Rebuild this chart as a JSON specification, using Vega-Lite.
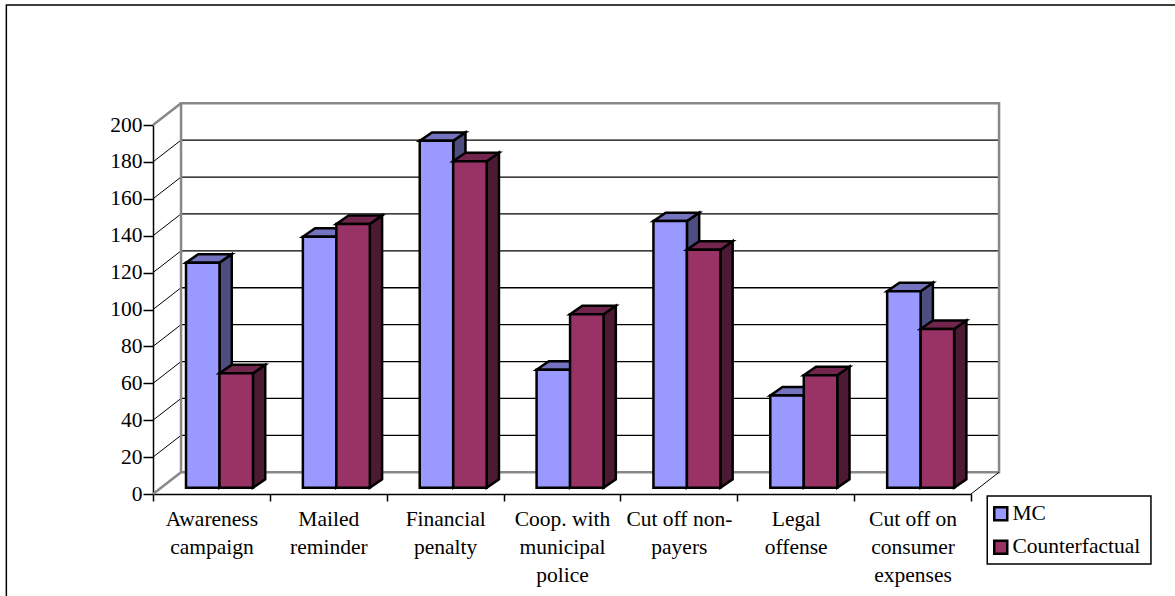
{
  "$schema": "https://vega.github.io/schema/vega-lite/v6.json",
  "autosize": {"type": "none"},
  "padding": {"left": 153, "top": 125, "right": 204, "bottom": 102},
  "width": 818,
  "height": 369,
  "background": "white",
  "config": {
    "view": {"stroke": null},
    "font": "Liberation Serif",
    "axis": {"labelFont": "Liberation Serif", "labelFontSize": 21.5, "labelColor": "black", "grid": false, "domainColor": "black", "tickColor": "black"},
    "axisY": {"tickCount": 10, "labelOverlap": false, "labelBound": false, "tickMinStep": 20, "tickSize": 10, "tickWidth": 1.5, "domainWidth": 1.5, "labelPadding": 1, "labelSeparation": 0}
  },
  "datasets": {
    "bars": [
      {"category": "Awareness\ncampaign", "series": "MC", "value": 122},
      {"category": "Mailed\nreminder", "series": "MC", "value": 136},
      {"category": "Financial\npenalty", "series": "MC", "value": 188},
      {"category": "Coop. with\nmunicipal\npolice", "series": "MC", "value": 64},
      {"category": "Cut off non-\npayers", "series": "MC", "value": 144.5},
      {"category": "Legal\noffense", "series": "MC", "value": 50},
      {"category": "Cut off on\nconsumer\nexpenses", "series": "MC", "value": 106.5},
      {"category": "Awareness\ncampaign", "series": "Counterfactual", "value": 62},
      {"category": "Mailed\nreminder", "series": "Counterfactual", "value": 143},
      {"category": "Financial\npenalty", "series": "Counterfactual", "value": 177},
      {"category": "Coop. with\nmunicipal\npolice", "series": "Counterfactual", "value": 94},
      {"category": "Cut off non-\npayers", "series": "Counterfactual", "value": 129},
      {"category": "Legal\noffense", "series": "Counterfactual", "value": 61},
      {"category": "Cut off on\nconsumer\nexpenses", "series": "Counterfactual", "value": 86}
    ],
    "gridlines": [
      {"level": 20}, {"level": 40}, {"level": 60}, {"level": 80}, {"level": 100},
      {"level": 120}, {"level": 140}, {"level": 160}, {"level": 180}
    ],
    "seed": [{"level": 0}]
  },
  "data": {"name": "bars"},
  "transform": [
    {"window": [{"op": "row_number", "as": "slot"}], "groupby": ["series"]},
    {"calculate": "datum.slot - 1 + 0.2825 + (datum.series === 'Counterfactual' ? 0.2865 : 0)", "as": "left"},
    {"calculate": "datum.left + 0.2865", "as": "right"},
    {"calculate": "datum.value + 3.4", "as": "top"},
    {"calculate": "3.4", "as": "base"},
    {"calculate": "[0, 1, 2, 3]", "as": "topCorner"},
    {"calculate": "[0, 1]", "as": "sideCorner"}
  ],
  "resolve": {"scale": {"x": "independent"}},
  "layer": [
    {
      "data": {"name": "seed"},
      "mark": {"type": "rect", "fill": null, "stroke": "black", "strokeWidth": 1.5, "clip": false},
      "encoding": {
        "x": {"datum": -1.255, "type": "quantitative", "scale": {"domain": [0, 7]}, "axis": null},
        "x2": {"datum": 9},
        "y": {"datum": 265, "type": "quantitative", "title": null, "scale": {"domain": [0, 200]}},
        "y2": {"datum": -100}
      }
    },
    {
      "mark": {"type": "point", "opacity": 0},
      "encoding": {
        "x": {
          "field": "category", "type": "nominal", "sort": null,
          "scale": {"paddingInner": 0, "paddingOuter": 0},
          "axis": {"tickBand": "extent", "labelAngle": 0, "labelExpr": "split(datum.label, '\\n')", "labelLineHeight": 28, "labelLimit": 0, "labelOverlap": false, "labelPadding": 7, "tickSize": 7, "tickWidth": 1.5, "domainWidth": 1.5, "title": null}
        }
      }
    },
    {
      "data": {"name": "gridlines"},
      "transform": [{"calculate": "datum.level + 11.8", "as": "plane"}],
      "mark": {"type": "rule", "stroke": "black", "strokeWidth": 1.3},
      "encoding": {
        "x": {"datum": 0.24, "type": "quantitative", "scale": {"domain": [0, 7]}, "axis": null},
        "x2": {"datum": 7.24},
        "y": {"field": "plane", "type": "quantitative", "title": null}
      }
    },
    {
      "data": {"name": "gridlines"},
      "transform": [{"calculate": "datum.level + 11.8", "as": "plane"}],
      "mark": {"type": "rule", "stroke": "black", "strokeWidth": 1},
      "encoding": {
        "x": {"datum": 0, "type": "quantitative", "scale": {"domain": [0, 7]}, "axis": null},
        "x2": {"datum": 0.24},
        "y": {"field": "level", "type": "quantitative", "title": null},
        "y2": {"field": "plane"}
      }
    },
    {
      "data": {"name": "seed"},
      "mark": {"type": "rect", "fill": null, "stroke": "#888888", "strokeWidth": 2.5, "clip": false},
      "encoding": {
        "x": {"datum": 0.24, "type": "quantitative", "scale": {"domain": [0, 7]}, "axis": null},
        "x2": {"datum": 7.24},
        "y": {"datum": 11.8, "type": "quantitative", "title": null},
        "y2": {"datum": 211.8}
      }
    },
    {
      "data": {"name": "seed"},
      "mark": {"type": "rule", "stroke": "#888888", "strokeWidth": 2.5},
      "encoding": {
        "x": {"datum": 0, "type": "quantitative", "scale": {"domain": [0, 7]}, "axis": null},
        "x2": {"datum": 0.24},
        "y": {"datum": 0, "type": "quantitative", "title": null},
        "y2": {"datum": 11.8}
      }
    },
    {
      "data": {"name": "seed"},
      "mark": {"type": "rule", "stroke": "#888888", "strokeWidth": 2.5},
      "encoding": {
        "x": {"datum": 0, "type": "quantitative", "scale": {"domain": [0, 7]}, "axis": null},
        "x2": {"datum": 0.24},
        "y": {"datum": 200, "type": "quantitative", "title": null},
        "y2": {"datum": 211.8}
      }
    },
    {
      "data": {"name": "seed"},
      "mark": {"type": "rule", "stroke": "black", "strokeWidth": 1},
      "encoding": {
        "x": {"datum": 7, "type": "quantitative", "scale": {"domain": [0, 7]}, "axis": null},
        "x2": {"datum": 7.24},
        "y": {"datum": 0, "type": "quantitative", "title": null},
        "y2": {"datum": 11.8}
      }
    },
    {
      "data": {"name": "seed"},
      "mark": {"type": "rect", "fill": "white", "stroke": "black", "strokeWidth": 1.5, "clip": false},
      "encoding": {
        "x": {"datum": 7.139, "type": "quantitative", "scale": {"domain": [0, 7]}, "axis": null},
        "x2": {"datum": 8.54},
        "y": {"datum": -1.08, "type": "quantitative", "title": null},
        "y2": {"datum": -37.9}
      }
    },
    {
      "transform": [
        {"filter": "datum.series === 'MC'"},
        {"flatten": ["sideCorner"]},
        {"calculate": "datum.right + datum.sideCorner * 0.105", "as": "px"},
        {"calculate": "datum.base + datum.sideCorner * 4.6", "as": "lo"},
        {"calculate": "datum.top + datum.sideCorner * 4.6", "as": "hi"}
      ],
      "mark": {"type": "area", "orient": "vertical", "fill": "#4D4D80", "stroke": "black", "strokeWidth": 2.5, "strokeJoin": "miter"},
      "encoding": {
        "x": {"field": "px", "type": "quantitative", "scale": {"domain": [0, 7]}, "axis": null},
        "y": {"field": "lo", "type": "quantitative", "stack": null, "title": null},
        "y2": {"field": "hi"},
        "detail": {"field": "category"}
      }
    },
    {
      "transform": [
        {"filter": "datum.series === 'MC'"},
        {"flatten": ["topCorner"]},
        {"calculate": "datum.topCorner < 2 ? datum.left + datum.topCorner * 0.105 : datum.right + (datum.topCorner - 2) * 0.105", "as": "px"},
        {"calculate": "datum.topCorner === 3 ? datum.top + 4.6 : datum.top", "as": "lo"},
        {"calculate": "datum.topCorner === 0 ? datum.top : datum.top + 4.6", "as": "hi"}
      ],
      "mark": {"type": "area", "orient": "vertical", "fill": "#7373BF", "stroke": "black", "strokeWidth": 2.5, "strokeJoin": "miter"},
      "encoding": {
        "x": {"field": "px", "type": "quantitative", "scale": {"domain": [0, 7]}, "axis": null},
        "y": {"field": "lo", "type": "quantitative", "stack": null, "title": null},
        "y2": {"field": "hi"},
        "detail": {"field": "category"}
      }
    },
    {
      "transform": [{"filter": "datum.series === 'MC'"}],
      "mark": {"type": "rect", "stroke": "black", "strokeWidth": 2.5},
      "encoding": {
        "x": {"field": "left", "type": "quantitative", "scale": {"domain": [0, 7]}, "axis": null},
        "x2": {"field": "right"},
        "y": {"field": "top", "type": "quantitative", "title": null},
        "y2": {"field": "base"},
        "fill": {
          "field": "series", "type": "nominal",
          "scale": {"domain": ["MC", "Counterfactual"], "range": ["#9999FF", "#993366"]},
          "legend": {"title": null, "orient": "none", "legendX": 837, "legendY": 378, "padding": 0, "symbolType": "square", "symbolSize": 169, "symbolStrokeColor": "black", "symbolStrokeWidth": 2.5, "labelFont": "Liberation Serif", "labelFontSize": 21.5, "labelColor": "black", "labelOffset": 1, "rowPadding": 9.5, "labelLimit": 0}
        }
      }
    },
    {
      "transform": [
        {"filter": "datum.series === 'Counterfactual'"},
        {"flatten": ["sideCorner"]},
        {"calculate": "datum.right + datum.sideCorner * 0.105", "as": "px"},
        {"calculate": "datum.base + datum.sideCorner * 4.6", "as": "lo"},
        {"calculate": "datum.top + datum.sideCorner * 4.6", "as": "hi"}
      ],
      "mark": {"type": "area", "orient": "vertical", "fill": "#4D1A33", "stroke": "black", "strokeWidth": 2.5, "strokeJoin": "miter"},
      "encoding": {
        "x": {"field": "px", "type": "quantitative", "scale": {"domain": [0, 7]}, "axis": null},
        "y": {"field": "lo", "type": "quantitative", "stack": null, "title": null},
        "y2": {"field": "hi"},
        "detail": {"field": "category"}
      }
    },
    {
      "transform": [
        {"filter": "datum.series === 'Counterfactual'"},
        {"flatten": ["topCorner"]},
        {"calculate": "datum.topCorner < 2 ? datum.left + datum.topCorner * 0.105 : datum.right + (datum.topCorner - 2) * 0.105", "as": "px"},
        {"calculate": "datum.topCorner === 3 ? datum.top + 4.6 : datum.top", "as": "lo"},
        {"calculate": "datum.topCorner === 0 ? datum.top : datum.top + 4.6", "as": "hi"}
      ],
      "mark": {"type": "area", "orient": "vertical", "fill": "#73264D", "stroke": "black", "strokeWidth": 2.5, "strokeJoin": "miter"},
      "encoding": {
        "x": {"field": "px", "type": "quantitative", "scale": {"domain": [0, 7]}, "axis": null},
        "y": {"field": "lo", "type": "quantitative", "stack": null, "title": null},
        "y2": {"field": "hi"},
        "detail": {"field": "category"}
      }
    },
    {
      "transform": [{"filter": "datum.series === 'Counterfactual'"}],
      "mark": {"type": "rect", "stroke": "black", "strokeWidth": 2.5},
      "encoding": {
        "x": {"field": "left", "type": "quantitative", "scale": {"domain": [0, 7]}, "axis": null},
        "x2": {"field": "right"},
        "y": {"field": "top", "type": "quantitative", "title": null},
        "y2": {"field": "base"},
        "fill": {"field": "series", "type": "nominal"}
      }
    }
  ]
}
